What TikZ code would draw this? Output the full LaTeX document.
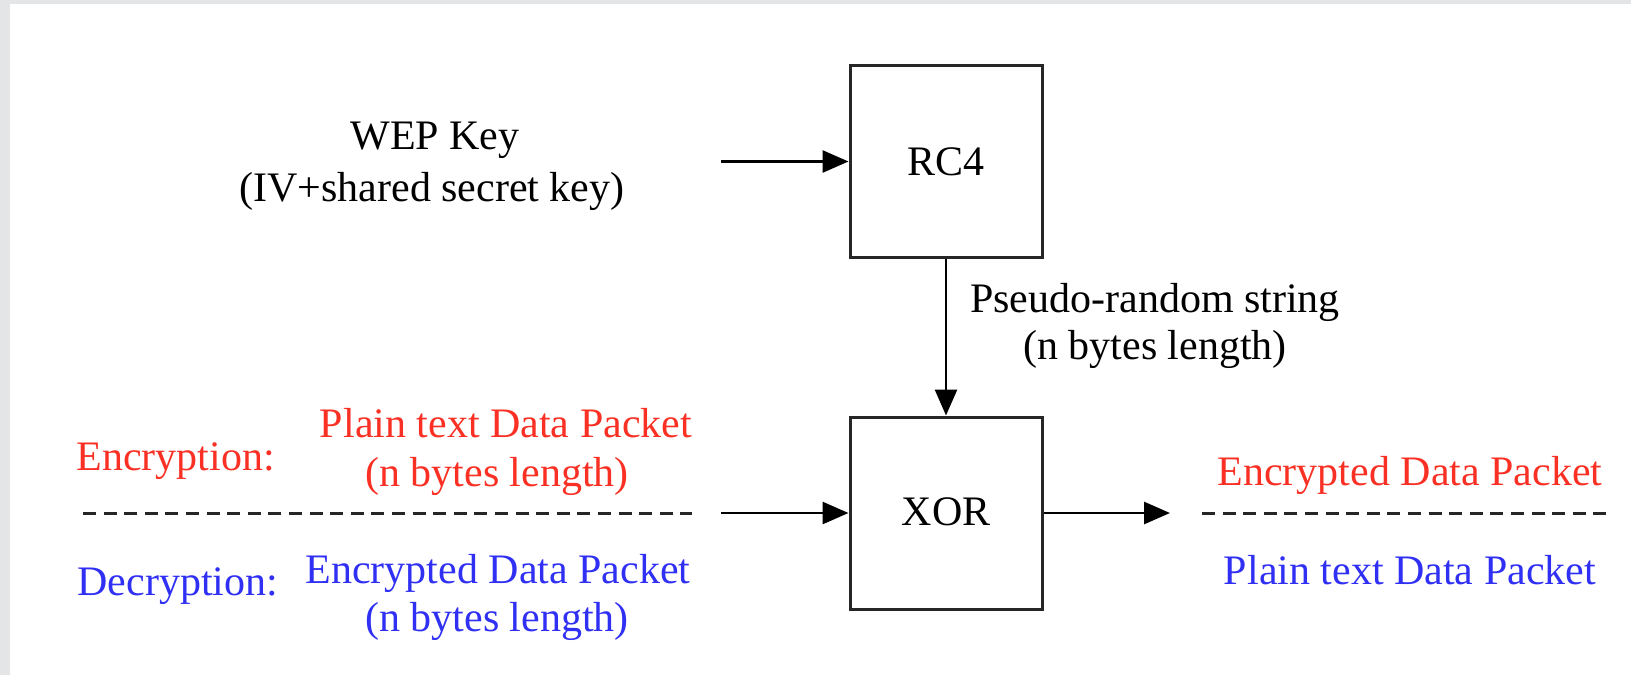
\documentclass[tikz,border=0pt]{standalone}
\usepackage{fontspec}
\setmainfont{Liberation Serif}
\usetikzlibrary{arrows.meta}
\definecolor{frame}{RGB}{228,229,230}
\definecolor{enc}{RGB}{250,48,36}
\definecolor{dec}{RGB}{48,48,245}
\tikzset{
  blk/.style={draw=black!85, line width=1.5pt, minimum width=96pt, minimum height=96pt, inner sep=0pt},
  flow/.style={line width=1.4pt, -{Triangle[length=13pt,width=11pt]}},
  sep/.style={line width=1.5pt, draw=black!85, dash pattern=on 6.5pt off 3.8pt},
  lbl/.style={anchor=base, inner sep=0pt, font=\fontsize{21}{25}\selectfont},
}
\begin{document}
\begin{tikzpicture}[x=0.5pt,y=-0.5pt]
% page and its grey margin
\fill[frame] (0,0) rectangle (1631,675);
\fill[white] (10,4) rectangle (1631,675);
\useasboundingbox (0,0) rectangle (1631,675);

% processing blocks
\node[blk] (rc4) at (946,161.5) {};
\node[blk] (xor) at (946,513) {};
\node[lbl] (rc4t) at (946,175) {RC4};
\node[lbl] (xort) at (946,525) {XOR};

% key input
\node[lbl] (key1) at (435,149) {WEP Key};
\node[lbl] (key2) at (432,201) {(IV+shared secret key)};
\coordinate (keyin) at (721,161.5);
\draw[flow] (keyin) -- (rc4.west);

% keystream
\node[lbl] (ks1) at (1155,312) {Pseudo-random string};
\node[lbl] (ks2) at (1155,359) {(n bytes length)};
\draw[flow] (rc4.south) -- (xor.north);

% data input
\coordinate (datain) at (721,513);
\draw[flow] (datain) -- (xor.west);
\coordinate (ls) at (83,513);
\coordinate (le) at (692,513);
\draw[sep] (ls) -- (le);
\node[lbl, text=enc, anchor=base west] (encl) at (76,470) {Encryption:};
\node[lbl, text=enc] (enc1) at (506,437) {Plain text Data Packet};
\node[lbl, text=enc] (enc2) at (497,486) {(n bytes length)};
\node[lbl, text=dec, anchor=base west] (decl) at (77,595) {Decryption:};
\node[lbl, text=dec] (dec1) at (498,583) {Encrypted Data Packet};
\node[lbl, text=dec] (dec2) at (497,631) {(n bytes length)};

% data output
\coordinate (dataout) at (1170,513);
\draw[flow] (xor.east) -- (dataout);
\coordinate (rs) at (1202,513);
\coordinate (re) at (1613,513);
\draw[sep] (rs) -- (re);
\node[lbl, text=enc] (out1) at (1410,485) {Encrypted Data Packet};
\node[lbl, text=dec] (out2) at (1410,584) {Plain text Data Packet};
\end{tikzpicture}
\end{document}
